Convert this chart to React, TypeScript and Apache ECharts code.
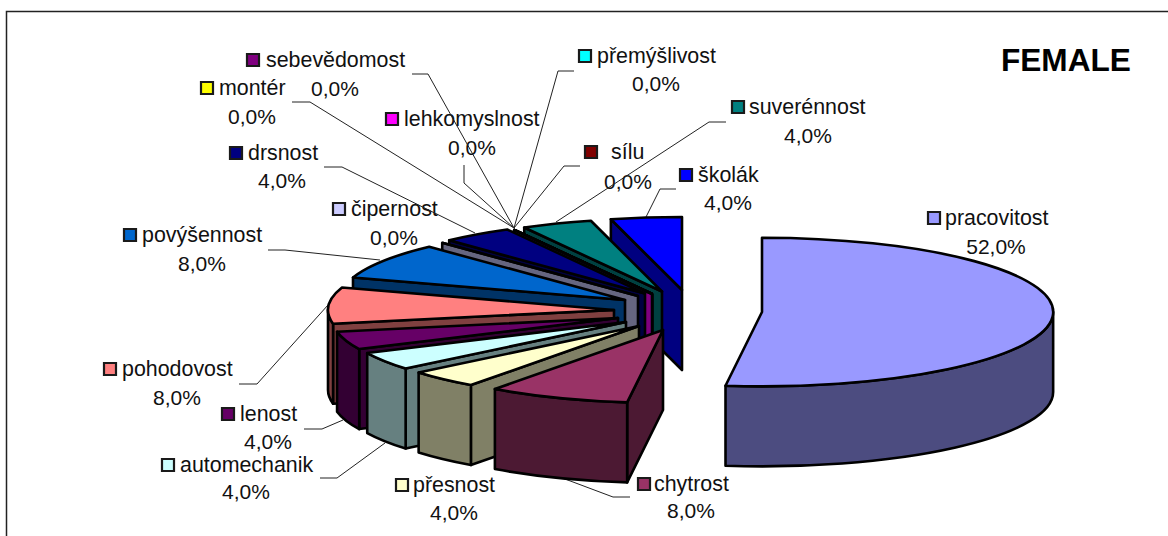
import React, { useEffect, useRef } from "react";
import * as echarts from "echarts";

const title = "FEMALE";
const categories = ["pracovitost", "chytrost", "přesnost", "automechanik", "lenost", "pohodovost", "povýšennost", "čipernost", "drsnost", "lehkomyslnost", "montér", "přemýšlivost", "sebevědomost", "sílu", "suverénnost", "školák"];
const shares = [52, 8, 4, 4, 4, 8, 8, 0, 4, 0, 0, 0, 0, 0, 4, 4];
const topColors = ["#9999FF", "#993366", "#FFFFCC", "#CCFFFF", "#660066", "#FF8080", "#0066CC", "#CCCCFF", "#000080", "#FF00FF", "#FFFF00", "#00FFFF", "#800080", "#800000", "#008080", "#0000FF"];
const sideColors = ["#4C4C80", "#4C1933", "#808066", "#668080", "#330033", "#804040", "#003366", "#666680", "#000040", "#800080", "#808000", "#008080", "#400040", "#400000", "#004040", "#000080"];

// Pie layout (style, not data)
const PIE = { cx: 646, cy: 310, rx: 286, ry: 73, depth: 80 };
// Per-slice explosion, as offsets of the slice's apex from the pie's centre
const explodeX = [116, 17, -7, -20, -28, -32, -21, -8, -1, 6, 6, 6, 6, 6, 16, 36];
const explodeY = [2, 20, 16, 12, 8, 0, -10, -14, -16.5, -16, -16, -16, -16, -16, -18.5, -20];
const radiusScale = [1.018, 1, 1, 1, 1, 1, 1, 1, 1, 1, 1, 1, 1, 1, 1, 1];

// Label layout: [swatch x, name x, name y, percent centre x, percent y]
const labelLayout = [
  [934, 945, 218, 996, 246],
  [644, 654, 484, 691, 510],
  [402, 413, 485, 454, 512],
  [168, 180, 465, 246, 491],
  [228, 240, 414, 268, 441],
  [110, 122, 369, 177, 397],
  [130, 142, 235, 202, 263],
  [339, 351, 209, 394, 237],
  [236, 248, 153, 282, 180],
  [392, 404, 119, 472, 147],
  [207, 219, 88, 252, 116],
  [585, 597, 56, 656, 83],
  [253, 266, 60, 335, 88],
  [591, 611, 152, 628, 181],
  [738, 749, 107, 808, 135],
  [686, 698, 175, 728, 202],
];
const leaders: number[][][] = [
  [],
  [[630, 497], [613, 497], [565, 479]],
  [],
  [[320, 478], [337, 478], [385, 443]],
  [[304, 429], [322, 429], [343, 420]],
  [[239, 384], [257, 384], [328, 305]],
  [[268, 250], [285, 250], [380, 260]],
  [],
  [[324, 167], [342, 167], [475, 233]],
  [[464, 165], [464, 183], [514, 228]],
  [[292, 102], [310, 102], [514, 228]],
  [[574, 71], [558, 71], [514, 228]],
  [[412, 74], [428, 74], [514, 228]],
  [[580, 166], [564, 166], [514, 228]],
  [[726, 122], [709, 122], [556, 222]],
  [[676, 189], [660, 189], [646, 217]],
];

const total = shares.reduce((a, b) => a + b, 0);
const startAngles: number[] = [];
shares.reduce((acc, v, i) => {
  startAngles[i] = acc;
  return acc + (v / total) * 360;
}, 0);

const LINE = "#000000";
const LW = 2.6;

function sliceShapes(i: number) {
  const start = startAngles[i];
  const end = start + (shares[i] / total) * 360;
  const cx = PIE.cx + explodeX[i];
  const cy = PIE.cy + explodeY[i];
  const rx = PIE.rx * radiusScale[i];
  const ry = PIE.ry * radiusScale[i];
  const d = PIE.depth;
  const pt = (a: number, dz = 0) => {
    const r = (a * Math.PI) / 180;
    return [cx + rx * Math.sin(r), cy - ry * Math.cos(r) + dz];
  };
  const el = (pathData: string, fill: string) => ({
    type: "path",
    shape: { pathData },
    style: { fill, stroke: LINE, lineWidth: LW, lineJoin: "round" },
  });
  const out: any[] = [];
  const fmt = (p: number[]) => `${p[0].toFixed(2)} ${p[1].toFixed(2)}`;
  const cutWall = (a: number) => {
    const p = pt(a);
    const q = pt(a, d);
    return `M ${cx} ${cy} L ${fmt(p)} L ${fmt(q)} L ${cx} ${cy + d} Z`;
  };
  // The cut faces which look towards the viewer
  if (Math.sin((start * Math.PI) / 180) < 0) out.push(el(cutWall(start), sideColors[i]));
  if (shares[i] > 0 && Math.sin((end * Math.PI) / 180) > 0) out.push(el(cutWall(end), sideColors[i]));
  // The rim's front part
  const s = Math.max(start, 90);
  const e = Math.min(end, 270);
  if (e > s) {
    const a = pt(s);
    const b = pt(e);
    const c = pt(e, d);
    const f = pt(s, d);
    out.push(el(`M ${fmt(a)} A ${rx} ${ry} 0 0 1 ${fmt(b)} L ${fmt(c)} A ${rx} ${ry} 0 0 0 ${fmt(f)} Z`, sideColors[i]));
  }
  // The top
  const p0 = pt(start);
  const p1 = pt(end);
  const large = end - start > 180 ? 1 : 0;
  out.push(
    shares[i] > 0
      ? el(`M ${cx} ${cy} L ${fmt(p0)} A ${rx} ${ry} 0 ${large} 1 ${fmt(p1)} Z`, topColors[i])
      : el(`M ${cx} ${cy} L ${fmt(p0)}`, topColors[i])
  );
  return out;
}

function labelShapes(i: number) {
  const [sx, nx, ny, px, py] = labelLayout[i];
  const pct = `${shares[i].toFixed(1).replace(".", ",")}%`;
  const font = { fontFamily: "Liberation Sans", fill: "#111111" };
  const out: any[] = [];
  if (leaders[i].length) {
    out.push({
      type: "polyline",
      shape: { points: leaders[i] },
      style: { stroke: "#222222", lineWidth: 1, fill: "none" },
    });
  }
  out.push({
    type: "rect",
    shape: { x: sx - 6, y: ny - 6, width: 12, height: 12 },
    style: { fill: topColors[i], stroke: "#1a1a1a", lineWidth: 2.2 },
  });
  out.push({ type: "text", style: { ...font, fontSize: 21.4, text: categories[i], x: nx, y: ny, align: "left", verticalAlign: "middle" } });
  out.push({ type: "text", style: { ...font, fontSize: 21, text: pct, x: px, y: py, align: "center", verticalAlign: "middle" } });
  return out;
}

// Back slices are painted first
const drawOrder = categories.map((_, i) => categories.length - 1 - i);

export default function App() {
  const ref = useRef<HTMLDivElement>(null);
  useEffect(() => {
    document.body.style.margin = "0";
    const chart = echarts.init(ref.current!, null, { renderer: "svg" });
    chart.setOption({
      animation: false,
      backgroundColor: "#ffffff",
      title: {
        text: title,
        left: 1001,
        top: 44,
        padding: 0,
        textStyle: { fontFamily: "Liberation Sans", fontSize: 31.6, fontWeight: "bold", color: "#000000" },
      },
      graphic: [
        {
          type: "rect",
          z: 0,
          shape: { x: 6.5, y: 11.5, width: 1300, height: 700 },
          style: { fill: "none", stroke: "#222222", lineWidth: 1.5 },
        },
      ],
      series: [
        {
          type: "custom",
          name: "labels",
          coordinateSystem: "none",
          silent: true,
          z: 2,
          data: categories.map((name, i) => ({ name, value: shares[i] })),
          renderItem: (p: any) => ({ type: "group", children: labelShapes(p.dataIndex) }),
        },
        {
          type: "custom",
          name: title,
          coordinateSystem: "none",
          silent: true,
          z: 3,
          data: drawOrder.map((i) => ({ name: categories[i], value: shares[i] })),
          renderItem: (p: any) => ({ type: "group", children: sliceShapes(drawOrder[p.dataIndex]) }),
        },
      ],
    });
    return () => chart.dispose();
  }, []);
  return <div ref={ref} style={{ position: "fixed", left: 0, top: 0, width: 1168, height: 536 }} />;
}
